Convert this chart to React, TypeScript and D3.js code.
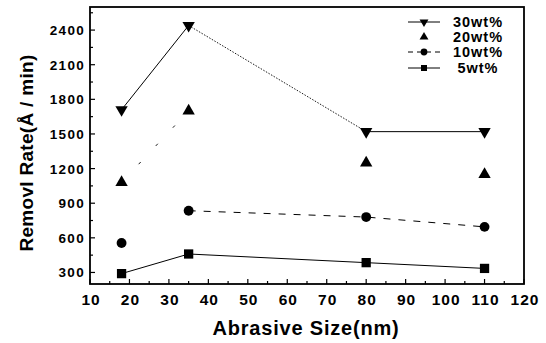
import React from "react";
import * as d3 from "d3";

// abrasive size (nm)
const sizes = [18, 35, 80, 110];
const rate30 = [1710, 2440, 1520, 1520];
const rate20 = [1080, 1700, 1250, 1150];
const rate10 = [555, 835, 780, 695];
const rate5 = [290, 460, 385, 335];

const seriesNames = ["30wt%", "20wt%", "10wt%", "5wt%"];
const xTicks = [10, 20, 30, 40, 50, 60, 70, 80, 90, 100, 110, 120];
const yTicks = [300, 600, 900, 1200, 1500, 1800, 2100, 2400];

const W = 546,
  H = 343;
const margin = { top: 7, right: 22, bottom: 59, left: 90 };
const FONT = "'Liberation Sans', Arial, Helvetica, sans-serif";

const App = () => {
  const x = d3.scaleLinear().domain([10, 120]).range([margin.left, W - margin.right]);
  const y = d3.scaleLinear().domain([200, 2600]).range([H - margin.bottom, margin.top]);

  const pts = (vals: number[]) => sizes.map((s, i) => [s, vals[i]] as [number, number]);
  const line = d3
    .line<[number, number]>()
    .x((d) => x(d[0]))
    .y((d) => y(d[1]));

  const xMinor = d3.range(15, 120, 10);
  const yMinor = d3.range(450, 2600, 300);

  // markers
  const tri = d3.symbol().type(d3.symbolTriangle).size(66);
  const sq = d3.symbol().type(d3.symbolSquare).size(86);
  const circ = d3.symbol().type(d3.symbolCircle).size(76);

  const s30 = pts(rate30);
  const s20 = pts(rate20);
  const s10 = pts(rate10);
  const s5 = pts(rate5);

  // the scanned 30wt% line: solid, then faint dotted, then solid
  const seg30Dash = ["none", "1.5,1.5", "none"];

  const bottom = H - margin.bottom;
  const legendX = 424;
  const legendY = [22, 37, 52, 68];

  return (
    <svg
      width={W}
      height={H}
      style={{ position: "fixed", left: 0, top: 0, background: "#fff" }}
      fontFamily={FONT}
      fontWeight="bold"
    >
      <rect width={W} height={H} fill="#fff" />

      {/* ticks */}
      <g stroke="#000" strokeWidth={1.2}>
        {xTicks.map((t) => (
          <line key={"xt" + t} x1={x(t)} x2={x(t)} y1={bottom} y2={bottom - 5} />
        ))}
        {xMinor.map((t) => (
          <line key={"xm" + t} x1={x(t)} x2={x(t)} y1={bottom} y2={bottom - 3} />
        ))}
        {yTicks.map((t) => (
          <line key={"yt" + t} x1={margin.left} x2={margin.left + 5} y1={y(t)} y2={y(t)} />
        ))}
        {yMinor.map((t) => (
          <line key={"ym" + t} x1={margin.left} x2={margin.left + 3} y1={y(t)} y2={y(t)} />
        ))}
      </g>

      {/* frame */}
      <rect
        x={margin.left}
        y={margin.top}
        width={W - margin.left - margin.right}
        height={bottom - margin.top}
        fill="none"
        stroke="#000"
        strokeWidth={1.8}
      />

      {/* tick labels */}
      <g fontSize={15.5} textAnchor="middle" fill="#000">
        {xTicks.map((t) => (
          <text key={"xl" + t} x={x(t) + 1} y={305} letterSpacing={1}>
            {t}
          </text>
        ))}
      </g>
      <g fontSize={13.5} textAnchor="end" fill="#000">
        {yTicks.map((t) => (
          <text key={"yl" + t} x={85} y={y(t) + 5} letterSpacing={1.3}>
            {t}
          </text>
        ))}
      </g>

      {/* axis titles */}
      <text x={306} y={335} fontSize={20} textAnchor="middle" letterSpacing={0.8}>
        Abrasive Size(nm)
      </text>
      <text
        transform={`translate(33,153) rotate(-90)`}
        fontSize={19}
        textAnchor="middle"
        letterSpacing={0.3}
      >
        Removl Rate(Å / min)
      </text>

      {/* series lines */}
      <g fill="none" stroke="#000" strokeWidth={1}>
        {s30.slice(1).map((p, i) => (
          <path
            key={"l30" + i}
            d={line([s30[i], p]) || ""}
            strokeDasharray={seg30Dash[i]}
            strokeWidth={seg30Dash[i] === "none" ? 1 : 0.9}
          />
        ))}
        <path d={line(s20.slice(0, 2)) || ""} strokeDasharray="3,22" strokeWidth={0.9} />
        <path d={line(s10.slice(1)) || ""} strokeDasharray="7,8" />
        <path d={line(s5) || ""} />
      </g>

      {/* markers */}
      <g fill="#000">
        {s30.map((p, i) => (
          <path
            key={"m30" + i}
            d={tri() || ""}
            transform={`translate(${x(p[0])},${y(p[1])}) rotate(180)`}
          />
        ))}
        {s20.map((p, i) => (
          <path key={"m20" + i} d={tri() || ""} transform={`translate(${x(p[0])},${y(p[1])})`} />
        ))}
        {s10.map((p, i) => (
          <path key={"m10" + i} d={circ() || ""} transform={`translate(${x(p[0])},${y(p[1])})`} />
        ))}
        {s5.map((p, i) => (
          <path key={"m5" + i} d={sq() || ""} transform={`translate(${x(p[0])},${y(p[1])})`} />
        ))}
      </g>

      {/* legend */}
      <g>
        {seriesNames.map((name, i) => {
          const ly = legendY[i];
          const dash = i === 2 ? "5,4" : "none";
          const marker =
            i === 0 ? (
              <path d={d3.symbol().type(d3.symbolTriangle).size(34)() || ""} transform={`translate(${legendX},${ly}) rotate(180)`} />
            ) : i === 1 ? (
              <path d={d3.symbol().type(d3.symbolTriangle).size(34)() || ""} transform={`translate(${legendX},${ly})`} />
            ) : i === 2 ? (
              <path d={d3.symbol().type(d3.symbolCircle).size(36)() || ""} transform={`translate(${legendX},${ly})`} />
            ) : (
              <path d={d3.symbol().type(d3.symbolSquare).size(36)() || ""} transform={`translate(${legendX},${ly})`} />
            );
          return (
            <g key={name}>
              {i !== 1 && (
                <line
                  x1={legendX - 16}
                  x2={legendX + 16}
                  y1={ly}
                  y2={ly}
                  stroke="#000"
                  strokeWidth={1}
                  strokeDasharray={dash}
                />
              )}
              {marker}
              <text x={478} y={ly + 5} fontSize={14.5} textAnchor="middle" letterSpacing={1}>
                {name}
              </text>
            </g>
          );
        })}
      </g>
    </svg>
  );
};

export default App;
